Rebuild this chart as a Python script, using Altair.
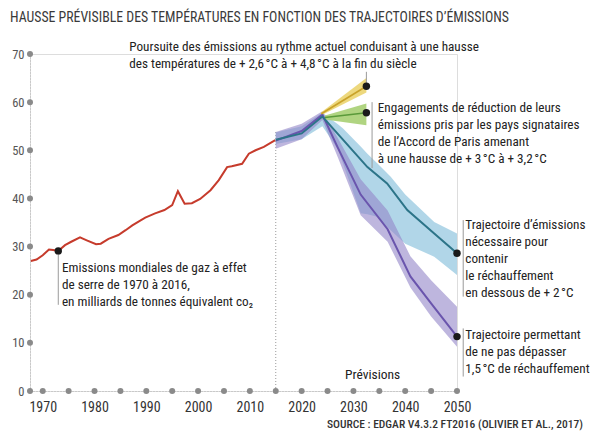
import altair as alt
import pandas as pd

FONT = "Roboto Condensed, Liberation Sans Narrow, Roboto, sans-serif"
NS = "\u202f"  # narrow no-break space

# ---------------- data ----------------
hist_years = [1967.7, 1968.8, 1970.0, 1971.2, 1972.0, 1973.0, 1974.3, 1975.5, 1977.2, 1978.5,
              1980.3, 1981.2, 1982.7, 1984.6, 1986.0, 1987.3, 1988.5, 1989.8, 1991.7, 1993.5,
              1995.0, 1996.1, 1997.4, 1998.8, 2000.4, 2002.4, 2004.0, 2005.6, 2006.5, 2008.5,
              2009.8, 2011.1, 2012.7, 2014.9]
hist_values = [27.0, 27.3, 28.2, 29.4, 29.3, 29.1, 30.3, 31.0, 31.9, 31.3,
               30.5, 30.6, 31.6, 32.4, 33.4, 34.4, 35.2, 36.0, 36.9, 37.6,
               38.6, 41.5, 38.9, 39.0, 39.9, 41.7, 43.8, 46.5, 46.7, 47.2,
               49.3, 50.0, 50.7, 52.1]

t2_years = [2015, 2020, 2024, 2027.5, 2032.7, 2036.5, 2040.4, 2045.6, 2050]
t2_values = [52.2, 53.5, 57.0, 52.8, 46.5, 43.1, 37.6, 32.7, 28.6]
t2_band_years = [2015, 2020, 2024, 2027, 2028, 2031.4, 2032.7, 2034.6, 2037.2, 2040, 2045.6, 2050]
t2_band_low = [51.3, 52.3, 55.0, 50.2, 47.2, 36.9, 36.7, 36.2, 33.4, 30.6, 27.9, 24.1]
t2_band_high = [53.7, 55.0, 57.8, 55.4, 54.5, 50.8, 49.3, 47.3, 44.5, 40.8, 35.1, 32.7]

t15_years = [2015, 2020, 2024, 2027, 2031.4, 2036.6, 2041, 2045, 2050]
t15_values = [52.0, 54.0, 57.4, 50.5, 40.8, 33.6, 23.8, 18.2, 11.3]
t15_band_low = [50.3, 52.3, 56.3, 48.5, 36.5, 31.0, 21.5, 15.5, 9.2]
t15_band_high = [53.8, 55.5, 58.1, 52.5, 44.0, 37.5, 28.0, 23.0, 17.5]

cur_years = [2023.8, 2032.5]
cur_values = [57.6, 63.3]
cur_band_low = [57.3, 62.0]
cur_band_high = [57.9, 65.0]

paris_years = [2024.5, 2032.5]
paris_values = [56.8, 57.8]
paris_band_low = [56.4, 55.2]
paris_band_high = [57.2, 59.7]

x_tick_years = list(range(1970, 2051, 5))
x_label_years = list(range(1970, 2051, 10))
y_tick_values = list(range(0, 71, 10))

dot_years = [1973.0, 2032.5, 2032.5, 2050, 2050]
dot_values = [29.1, 63.3, 57.8, 28.6, 11.3]

# annotations (year, value of first line top, text)
ann_years = [1986.7, 2034.7, 2051.6, 2051.6, 1973.7]
ann_values = [72.7, 60.0, 35.7, 12.9, 26.8]
ann_texts = [
    f"Poursuite des émissions au rythme actuel conduisant à une hausse\ndes températures de + 2,6{NS}°C à + 4,8{NS}°C à la fin du siècle",
    f"Engagements de réduction de leurs\némissions pris par les pays signataires\nde l’Accord de Paris amenant\nà une hausse de + 3{NS}°C à + 3,2{NS}°C",
    f"Trajectoire d’émissions\nnécessaire pour\ncontenir\nle réchauffement\nen dessous de + 2{NS}°C",
    f"Trajectoire permettant\nde ne pas dépasser\n1,5{NS}°C de réchauffement",
    "Emissions mondiales de gaz à effet\nde serre de 1970 à 2016,\nen milliards de tonnes équivalent co₂",
]

leader_years = [2032.5, 2033.6, 2051.2, 2051.2, 1973.0]
leader_from = [66.3, 60.0, 35.5, 13.0, 29.1]
leader_to = [63.3, 46.3, 19.6, 3.0, 17.9]

TITLE = "HAUSSE PRÉVISIBLE DES TEMPÉRATURES EN FONCTION DES TRAJECTOIRES D’ÉMISSIONS"
SOURCE = "SOURCE : EDGAR V4.3.2 FT2016 (OLIVIER ET AL., 2017)"

# ---------------- scales & axes ----------------
xs = alt.Scale(domain=[1967.54, 2050], nice=False, zero=False)
ys = alt.Scale(domain=[0, 70], nice=False, zero=False)

x_axis = alt.Axis(values=x_label_years, format="d", ticks=False, grid=False, labelFlush=False,
                  domain=True, domainColor="#b5b5b5", domainDash=[1, 2], domainWidth=1,
                  labelFont=FONT, labelFontSize=14, labelColor="#333", labelPadding=9, title=None)
y_axis = alt.Axis(values=y_tick_values, ticks=False, grid=False, labelFlush=False,
                  domain=True, domainColor="#b5b5b5", domainDash=[1, 2], domainWidth=1,
                  labelFont=FONT, labelFontSize=12.5, labelColor="#555", labelPadding=6, title=None)


def X(field="year"):
    return alt.X(f"{field}:Q", scale=xs, axis=x_axis)


def Y(field="value"):
    return alt.Y(f"{field}:Q", scale=ys, axis=y_axis)


def band_df(years, low, high):
    return pd.DataFrame({"year": years, "low": low, "high": high})


def line_df(years, values):
    return pd.DataFrame({"year": years, "value": values})


xdots = alt.Chart(pd.DataFrame({"year": x_tick_years, "value": [0] * len(x_tick_years)})).mark_circle(
    size=36, color="#8a8a8a", opacity=1).encode(x=X(), y=Y())
ydots = alt.Chart(pd.DataFrame({"year": [1967.54] * len(y_tick_values), "value": y_tick_values})).mark_circle(
    size=36, color="#8a8a8a", opacity=1).encode(x=X(), y=Y())

vline = alt.Chart(pd.DataFrame({"year": [2015], "value": [0], "v2": [54.2]})).mark_rule(
    color="#9a9a9a", strokeDash=[1, 2], strokeWidth=1).encode(x=X(), y=Y(), y2="v2:Q")

b_t2 = alt.Chart(band_df(t2_band_years, t2_band_low, t2_band_high)).mark_area(
    color="#a9d2e6", opacity=0.9).encode(x=X(), y=Y("low"), y2="high:Q")
b_t15 = alt.Chart(band_df(t15_years, t15_band_low, t15_band_high)).mark_area(
    color="#9385c8", opacity=0.6).encode(x=X(), y=Y("low"), y2="high:Q")
b_cur = alt.Chart(band_df(cur_years, cur_band_low, cur_band_high)).mark_area(
    color="#ecd676", opacity=0.95).encode(x=X(), y=Y("low"), y2="high:Q")
b_par = alt.Chart(band_df(paris_years, paris_band_low, paris_band_high)).mark_area(
    color="#acd27a", opacity=0.95).encode(x=X(), y=Y("low"), y2="high:Q")

l_hist = alt.Chart(line_df(hist_years, hist_values)).mark_line(
    color="#c63b2c", strokeWidth=2).encode(x=X(), y=Y())
l_t15 = alt.Chart(line_df(t15_years, t15_values)).mark_line(
    color="#6a55ad", strokeWidth=2).encode(x=X(), y=Y())
l_t2 = alt.Chart(line_df(t2_years, t2_values)).mark_line(
    color="#2c7488", strokeWidth=2).encode(x=X(), y=Y())
l_cur = alt.Chart(line_df(cur_years, cur_values)).mark_line(
    color="#c9a22a", strokeWidth=1.6).encode(x=X(), y=Y())
l_par = alt.Chart(line_df(paris_years, paris_values)).mark_line(
    color="#5a9a3a", strokeWidth=1.6).encode(x=X(), y=Y())

leaders = alt.Chart(pd.DataFrame({"year": leader_years, "value": leader_from, "v2": leader_to})).mark_rule(
    color="#9a9a9a", strokeWidth=1).encode(x=X(), y=Y(), y2="v2:Q")

dots = alt.Chart(line_df(dot_years, dot_values)).mark_circle(
    size=55, color="#1a1a1a", opacity=1).encode(x=X(), y=Y())

ann = alt.Chart(pd.DataFrame({"year": ann_years, "value": ann_values, "text": ann_texts})).mark_text(
    align="left", baseline="top", font=FONT, fontSize=13.2, color="#222", lineBreak="\n", lineHeight=17
).encode(x=X(), y=Y(), text="text:N")

prev = alt.Chart(pd.DataFrame({"year": [2033.7], "value": [3.3], "text": ["Prévisions"]})).mark_text(
    align="center", baseline="middle", font=FONT, fontSize=13.5, color="#222"
).encode(x=X(), y=Y(), text="text:N")

title = alt.Chart(pd.DataFrame({"year": [1963.67], "value": [77.5], "text": [TITLE]})).mark_text(
    align="left", baseline="middle", font=FONT, fontSize=13.8, color="#3a3a3a"
).encode(x=X(), y=Y(), text="text:N")

source = alt.Chart(pd.DataFrame({"year": [2074.3], "value": [-7.0], "text": [SOURCE]})).mark_text(
    align="right", baseline="middle", font=FONT, fontSize=11.5, color="#333", fontWeight=500
).encode(x=X(), y=Y(), text="text:N")

chart = alt.layer(
    vline, xdots, ydots,
    b_t2, b_t15, b_cur, b_par,
    l_hist, l_t15, l_t2, l_cur, l_par,
    leaders, dots, ann, prev, title, source,
).properties(
    width=427, height=337,
    autosize=alt.AutoSizeParams(type="none"),
    padding={"left": 22, "top": 46, "right": 133, "bottom": 42},
).configure_view(stroke=None).configure(background="white")

chart.save("out.html", embed_options={"renderer": "svg", "actions": False})
